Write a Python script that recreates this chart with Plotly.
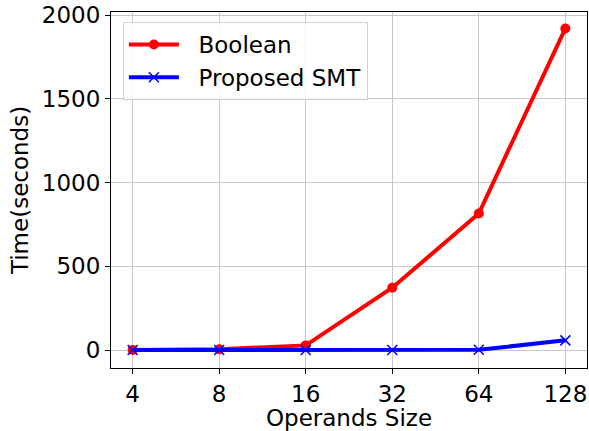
import plotly.graph_objects as go

operand_sizes = ["4", "8", "16", "32", "64", "128"]
boolean_time = [1, 5, 28, 372, 815, 1920]
smt_time = [0.5, 0.5, 0.6, 0.8, 1.5, 58]

font = "DejaVu Sans, Verdana, sans-serif"
fs = 23
pad = "\u00a0\u00a0"

fig = go.Figure()
fig.add_trace(go.Scatter(
    x=operand_sizes, y=boolean_time, name=pad + "Boolean", mode="lines+markers",
    legendgroup="boolean",
    line=dict(color="red", width=4),
    marker=dict(symbol="circle", size=10, color="red"),
))
fig.add_trace(go.Scatter(
    x=operand_sizes, y=smt_time, name=pad + "Proposed SMT", mode="lines+markers",
    legendgroup="smt",
    line=dict(color="blue", width=4),
    marker=dict(symbol="x-thin", size=10, color="blue",
                line=dict(color="blue", width=1.5)),
))

axis_common = dict(
    showline=True, linecolor="black", linewidth=1, mirror=True,
    ticks="outside", ticklen=5, tickcolor="black",
    showgrid=True, gridcolor="#c8c8c8", gridwidth=1,
    zeroline=False,
    tickfont=dict(family=font, size=fs, color="black"),
)

fig.update_layout(
    width=589, height=431,
    margin=dict(l=111, r=2, t=12, b=63),
    paper_bgcolor="white", plot_bgcolor="white",
    font=dict(family=font, size=fs, color="black"),
    showlegend=True,
    legend=dict(
        x=0.025, y=0.972, xanchor="left", yanchor="top",
        bgcolor="rgba(255,255,255,0.8)", bordercolor="#d0d0d0", borderwidth=1,
        font=dict(family=font, size=fs, color="black"),
        itemwidth=50, tracegroupgap=0,
    ),
)
fig.update_xaxes(
    type="category", range=[-0.25, 5.25],
    title=dict(text="Operands Size", font=dict(family=font, size=fs), standoff=0),
    **axis_common,
)
fig.update_yaxes(
    range=[-107, 2018], tickvals=[0, 500, 1000, 1500, 2000],
    title=dict(text="Time(seconds)", font=dict(family=font, size=fs), standoff=6),
    **axis_common,
)

fig.write_html("out.html")
